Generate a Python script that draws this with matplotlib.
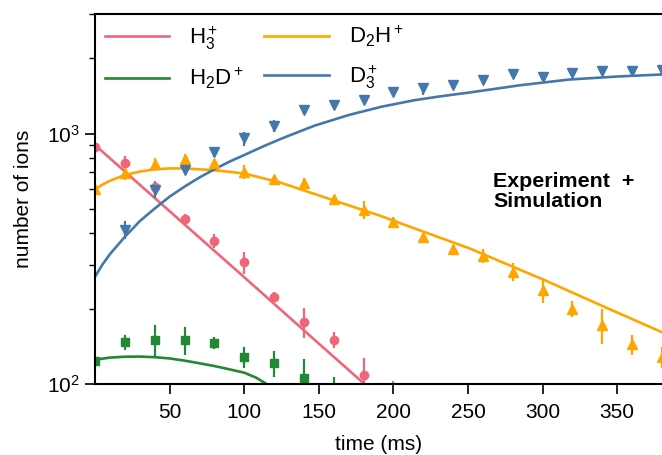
import matplotlib
matplotlib.use('Agg')
import matplotlib.pyplot as plt
import numpy as np

plt.rcParams['font.family'] = ['Liberation Sans', 'DejaVu Sans']
plt.rcParams['mathtext.fontset'] = 'custom'
plt.rcParams['mathtext.rm'] = 'Liberation Sans'
plt.rcParams['mathtext.it'] = 'Liberation Sans:italic'
plt.rcParams['mathtext.bf'] = 'Liberation Sans:bold'

# measured points (time in ms)
t_exp = [0, 20, 40, 60, 80, 100, 120, 140, 160, 180, 200, 220, 240, 260, 280, 300, 320, 340, 360, 380]

t_h3 = [0, 20, 40, 60, 80, 100, 120, 140, 160, 180, 200]
h3 = [885, 765, 614, 458, 372, 306, 222, 177, 150, 109, 88]
h3_err = [24, 49, 34, 21, 24, 31, 10, 24, 11, 18, 15]

t_h2d = [0, 20, 40, 60, 80, 100, 120, 140, 160]
h2d = [124, 147, 150, 150, 146, 128, 121, 106, 92]
h2d_err = [5, 10, 22, 19, 8, 12, 14, 20, 15]

d2h = [600, 695, 755, 789, 760, 704, 656, 632, 546, 495, 443, 385, 346, 324, 281, 237, 200, 172, 144, 128]
d2h_err = [17, 45, 42, 43, 28, 45, 18, 35, 20, 41, 20, 14, 13, 21, 23, 26, 15, 28, 13, 12]

t_d3 = [20, 40, 60, 80, 100, 120, 140, 160, 180, 200, 220, 240, 260, 280, 300, 320, 340, 360, 380]
d3 = [414, 595, 714, 845, 957, 1072, 1241, 1300, 1361, 1469, 1515, 1563, 1636, 1722, 1675, 1739, 1778, 1782, 1791]
d3_err = [34, 44, 26, 39, 62, 59, 34, 24, 25, 27, 84, 29, 30, 32, 31, 32, 33, 33, 33]

# simulation curves
t_sim_h3 = [0, 50, 100, 150, 200, 250]
sim_h3 = [900, 490, 267, 145, 79, 43]

t_sim_h2d = [0, 10, 20, 30, 40, 50, 60, 70, 80, 90, 100, 108, 115, 130]
sim_h2d = [125, 127.5, 128.5, 128.7, 128, 126.5, 124, 121, 118, 114.5, 111, 106, 100, 93]

t_sim_d2h = [0, 5, 10, 20, 30, 40, 50, 60, 80, 100, 124, 160, 191, 220, 251, 280, 300, 340, 380]
sim_d2h = [600, 625, 648, 683, 705, 720, 726, 726, 714, 693, 638, 541, 470, 406, 348, 294, 262, 205, 161]

t_sim_d3 = [0, 5, 10, 20, 30, 40, 50, 60, 70, 80, 90, 100, 112, 125, 147, 170,
            192, 214, 232, 251, 285, 318, 350, 380]
sim_d3 = [268, 300, 330, 387, 447, 502, 560, 614, 668, 720, 772, 821, 885, 955, 1075, 1186,
          1280, 1359, 1410, 1459, 1560, 1644, 1690, 1722]

c_h3 = '#EE6677'
c_h2d = '#228833'
c_d2h = '#FFA500'
c_d3 = '#4477AA'

fig = plt.figure(figsize=(6.62, 4.55), dpi=100)
ax = fig.add_axes([0.1435, 0.156, 0.8565, 0.813])

lw = 1.9
ax.plot(t_sim_h3, sim_h3, color=c_h3, lw=lw, label=r'H$_3^+$')
ax.plot(t_sim_h2d, sim_h2d, color=c_h2d, lw=lw, label=r'H$_2$D$^+$')
ax.plot(t_sim_d2h, sim_d2h, color=c_d2h, lw=lw, label=r'D$_2$H$^+$')
ax.plot(t_sim_d3, sim_d3, color=c_d3, lw=lw, label=r'D$_3^+$')

ax.errorbar(t_h3, h3, yerr=h3_err, fmt='o', ms=6, color=c_h3, elinewidth=1.6, capsize=0)
ax.errorbar(t_h2d, h2d, yerr=h2d_err, fmt='s', ms=5.5, color=c_h2d, elinewidth=1.6, capsize=0)
ax.errorbar(t_exp, d2h, yerr=d2h_err, fmt='^', ms=7, color=c_d2h, elinewidth=1.6, capsize=0)
ax.errorbar(t_d3, d3, yerr=d3_err, fmt='v', ms=7, color=c_d3, elinewidth=1.6, capsize=0)

ax.set_yscale('log')
ax.set_xlim(0, 380)
ax.set_ylim(100, 3000)
ax.set_xticks([50, 100, 150, 200, 250, 300, 350])
ax.spines['right'].set_visible(False)
for s in ['left', 'bottom', 'top']:
    ax.spines[s].set_linewidth(1.5)
ax.tick_params(which='major', length=7, width=1.2, labelsize=15)
ax.tick_params(axis='x', which='major', pad=7)
ax.tick_params(axis='y', which='major', pad=4)
ax.tick_params(which='minor', length=4, width=1.0, labelleft=False)
ax.tick_params(axis='x', which='minor', bottom=False)

ax.set_xlabel('time (ms)', fontsize=15, labelpad=9)
ax.set_ylabel('number of ions', fontsize=15, labelpad=10)

ax.text(0.702, 0.572, 'Experiment  +\nSimulation', transform=ax.transAxes,
        fontsize=15.4, fontweight='bold', va='top', ha='left', linespacing=1.05)

ax.legend(loc='upper left', ncol=2, frameon=False, fontsize=16,
          handlelength=2.9, handletextpad=0.9, columnspacing=0.9,
          labelspacing=0.65, borderaxespad=0.05)

fig.savefig('out.png', dpi=100)
